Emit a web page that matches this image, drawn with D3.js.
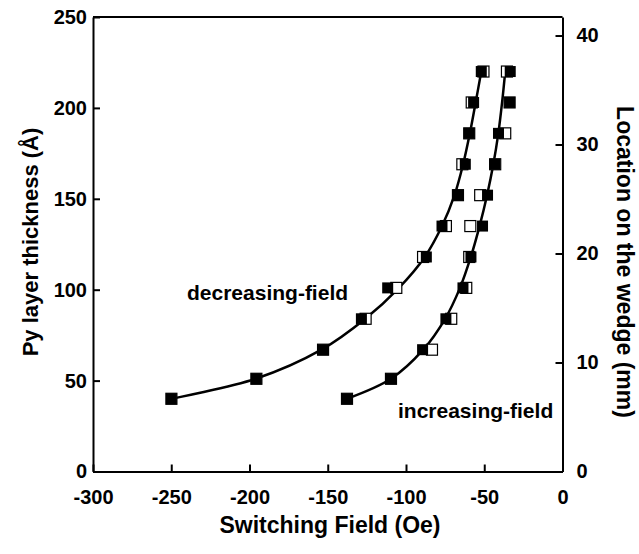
<!DOCTYPE html>
<html>
<head>
<meta charset="utf-8">
<script src="https://cdn.jsdelivr.net/npm/d3@7"></script>
<style>
  html, body { margin: 0; padding: 0; background: #fff; }
  svg { display: block; font-family: "Liberation Sans", Arial, Helvetica, sans-serif; }
</style>
</head>
<body>
<svg id="chart" width="639" height="554"></svg>
<script>
// ---- data ----
const thickness = [220, 203, 186, 169, 152, 135, 118, 101, 84, 67, 51, 40];          // Py layer thickness (Å)
const decFilled = [-51.9, -56.8, -59.6, -62.1, -66.8, -77.0, -87.0, -111.7, -128.5, -153.0, -195.6, -249.9];
const decOpen   = [-50.5, -58.0, -59.6, -64.0, -66.8, -74.5, -89.1, -106.2, -125.8, -153.0, -195.6, -249.9];
const incFilled = [-33.4, -33.8, -40.9, -43.4, -47.9, -51.1, -58.5, -63.6, -74.5, -89.4, -109.6, -137.7];
const incOpen   = [-35.5, -33.8, -36.6, -43.0, -52.6, -58.9, -59.6, -61.5, -71.1, -83.4, -109.6, -137.7];
const decFit    = [-51.9, -55.5, -59.2, -63.5, -69.0, -77.0, -88.0, -104.5, -126.0, -154.0, -196.0, -250.0];
const incFit    = [-36.6, -38.6, -41.0, -44.2, -48.2, -53.0, -58.6, -65.5, -75.0, -89.0, -109.6, -137.7];
const xTicks = [-300, -250, -200, -150, -100, -50, 0];
const yTicks = [0, 50, 100, 150, 200, 250];
const mmTicks = [0, 10, 20, 30, 40];
const xDomain = [-300, 0];
const yDomain = [0, 250];
const mmDomain = [0, 41.7];   // wedge location (mm) matching 0–250 Å

// ---- layout ----
const svg = d3.select("#chart");
const m = {left: 93, top: 17, right: 76.5, bottom: 82.5};
const W = 639 - m.left - m.right, H = 554 - m.top - m.bottom;
const g = svg.append("g").attr("transform", `translate(${m.left},${m.top})`);

const x = d3.scaleLinear().domain(xDomain).range([0, W]);
const y = d3.scaleLinear().domain(yDomain).range([H, 0]);
const yR = d3.scaleLinear().domain(mmDomain).range([H, 0]);
const fmt = d => String(d);   // plain hyphen-minus as in the reference

function styleAxis(sel) {
  sel.selectAll(".domain").attr("stroke", "#000").attr("stroke-width", 2).attr("fill", "none");
  sel.selectAll(".tick line").attr("stroke", "#000").attr("stroke-width", 2);
  sel.selectAll(".tick text").attr("fill", "#000")
     .attr("font-size", 20).attr("font-weight", "bold");
}

g.append("g").attr("transform", `translate(0,${H})`)
  .call(d3.axisBottom(x).tickValues(xTicks).tickFormat(fmt).tickSizeInner(-7).tickSizeOuter(0).tickPadding(18))
  .call(styleAxis);
g.append("g")
  .call(d3.axisLeft(y).tickValues(yTicks).tickFormat(fmt).tickSizeInner(-7).tickSizeOuter(0).tickPadding(6))
  .call(styleAxis);
g.append("g").attr("transform", `translate(${W},0)`)
  .call(d3.axisRight(yR).tickValues(mmTicks).tickFormat(fmt).tickSizeInner(-7).tickSizeOuter(0).tickPadding(14))
  .call(styleAxis);
// top frame line
g.append("line").attr("x1", x(xDomain[0])).attr("x2", x(xDomain[1]))
  .attr("y1", y(yDomain[1])).attr("y2", y(yDomain[1]))
  .attr("stroke", "#000").attr("stroke-width", 2);

// ---- fit curves ----
const line = d3.line().curve(d3.curveCatmullRom.alpha(0.5))
  .x(d => x(d[0])).y(d => y(d[1]));
[decFit, incFit].forEach(arr => {
  g.append("path").datum(arr.map((v, i) => [v, thickness[i]]))
    .attr("d", line).attr("fill", "none").attr("stroke", "#000").attr("stroke-width", 2.5);
});

// ---- markers ----
const S = 11;
function squares(arr, filled) {
  g.append("g").selectAll("rect").data(arr.map((v, i) => [v, thickness[i]])).join("rect")
    .attr("x", d => x(d[0]) - S / 2).attr("y", d => y(d[1]) - S / 2)
    .attr("width", S).attr("height", S)
    .attr("fill", filled ? "#000" : "#fff")
    .attr("stroke", "#000").attr("stroke-width", filled ? 0 : 1.2);
}
squares(decOpen, false);
squares(incOpen, false);
squares(decFilled, true);
squares(incFilled, true);

// ---- annotations ----
svg.append("text").attr("x", 187).attr("y", 300)
  .attr("font-size", 21).attr("font-weight", "bold").text("decreasing-field");
svg.append("text").attr("x", 398).attr("y", 418)
  .attr("font-size", 21).attr("font-weight", "bold").text("increasing-field");

// ---- axis titles ----
svg.append("text").attr("transform", "translate(38,242) rotate(-90)")
  .attr("text-anchor", "middle").attr("font-size", 22).attr("font-weight", "bold")
  .text("Py layer thickness (Å)");
svg.append("text").attr("x", 330).attr("y", 533)
  .attr("text-anchor", "middle").attr("font-size", 23).attr("font-weight", "bold")
  .text("Switching Field (Oe)");
svg.append("text").attr("transform", "translate(617,262) rotate(90)")
  .attr("text-anchor", "middle").attr("font-size", 23).attr("font-weight", "bold")
  .text("Location on the wedge (mm)");
</script>
</body>
</html>
